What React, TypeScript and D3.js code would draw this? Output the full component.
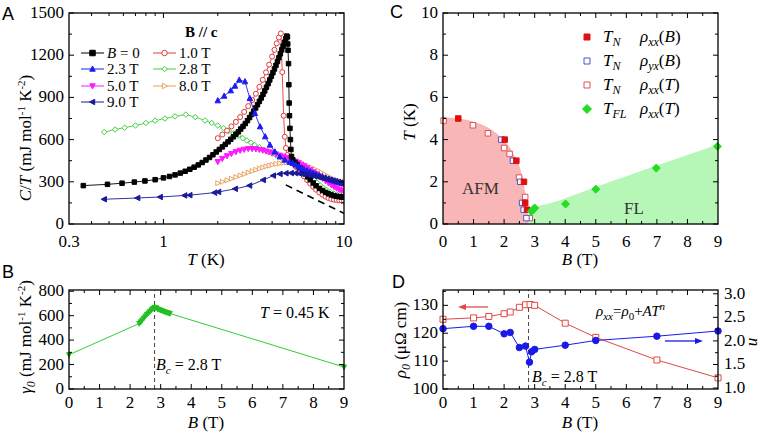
import React from 'react';
import * as d3 from 'd3';

type Pt = [number, number];

// ---------- Panel A : C/T vs T ----------
const A_B0: Pt[] = [[0.36,273],[0.49,282],[0.59,290],[0.69,298],[0.79,306],[0.9,315],[1.0,328],[1.08,338],[1.16,349],[1.24,362],[1.32,375],[1.4,389],[1.48,404],[1.56,420],[1.64,437],[1.72,455],[1.8,473],[1.88,492],[1.96,512],[2.04,530],[2.12,548],[2.2,566],[2.28,584],[2.36,602],[2.44,620],[2.52,638],[2.6,656],[2.68,675],[2.76,694],[2.84,714],[2.92,735],[3.0,757],[3.08,779],[3.16,802],[3.24,825],[3.32,848],[3.4,872],[3.48,896],[3.56,921],[3.64,946],[3.72,972],[3.8,998],[3.88,1024],[3.96,1050],[4.04,1076],[4.12,1102],[4.2,1128],[4.28,1155],[4.36,1182],[4.44,1210],[4.52,1238],[4.6,1265],[4.68,1292],[4.76,1318],[4.82,1336],[4.86,1330],[4.88,1280],[4.9,1235],[4.93,1140],[4.95,990],[4.97,860],[4.99,770],[5.02,680],[5.05,600],[5.08,530],[5.12,480],[5.2,455],[5.35,438],[5.5,422],[5.7,400],[5.9,378],[6.1,356],[6.3,335],[6.5,315],[6.75,292],[7.0,272],[7.3,253],[7.6,238],[7.9,225],[8.2,215],[8.5,207],[8.8,201],[9.1,197],[9.4,194],[9.7,192],[10.0,191]];
const A_1T: Pt[] = [[2.0,610],[2.12,636],[2.25,664],[2.38,694],[2.52,726],[2.66,760],[2.8,797],[2.95,838],[3.1,881],[3.25,926],[3.4,975],[3.55,1025],[3.7,1078],[3.85,1133],[4.0,1190],[4.12,1238],[4.24,1284],[4.36,1326],[4.47,1355],[4.55,1080],[4.63,770],[4.7,620],[4.77,540],[4.85,490],[5.0,455],[5.2,430],[5.4,408],[5.6,385],[5.8,362],[6.0,340],[6.25,312],[6.5,287],[6.75,264],[7.0,244],[7.3,224],[7.6,208],[7.9,195],[8.2,185],[8.5,178],[8.8,173],[9.1,170],[9.4,168],[9.7,167],[10,166]];
const A_23T: Pt[] = [[2.0,877],[2.17,910],[2.36,948],[2.49,981],[2.63,1024],[2.83,1012],[3.01,893],[3.21,787],[3.43,692],[3.66,621],[3.89,562],[4.14,514],[4.41,478],[4.7,455],[5.0,440],[5.2,432],[5.4,420],[5.6,408],[5.8,398],[6.0,390],[6.25,380],[6.5,371],[6.75,362],[7.0,354],[7.3,345],[7.6,336],[7.9,328],[8.2,320],[8.5,313],[8.8,306],[9.1,300],[9.4,295],[9.7,290],[10,286]];
const A_28T: Pt[] = [[0.47,653],[0.54,672],[0.61,685],[0.7,700],[0.8,718],[0.9,735],[1.02,750],[1.16,765],[1.33,778],[1.5,760],[1.7,736],[1.85,718],[2.0,700],[2.15,682],[2.3,662],[2.45,645],[2.6,628],[2.75,610],[2.9,594],[3.05,578],[3.2,562],[3.4,545],[3.6,528],[3.8,512],[4.0,500],[4.2,490],[4.45,476],[4.7,462],[5.0,448],[5.3,430],[5.6,410],[5.9,388],[6.2,365],[6.5,340],[6.8,316],[7.1,294],[7.4,274],[7.7,257],[8.0,243],[8.4,228],[8.8,216],[9.2,207],[9.6,200],[10,196]];
const A_5T: Pt[] = [[2.0,443],[2.12,465],[2.25,484],[2.38,500],[2.52,513],[2.66,523],[2.8,530],[2.95,535],[3.1,535],[3.25,533],[3.4,529],[3.55,524],[3.7,518],[3.85,512],[4.0,506],[4.2,497],[4.4,488],[4.6,480],[4.8,472],[5.0,464],[5.2,455],[5.4,445],[5.6,435],[5.8,424],[6.0,413],[6.25,399],[6.5,385],[6.75,370],[7.0,356],[7.3,340],[7.6,323],[7.9,307],[8.2,292],[8.5,278],[8.8,265],[9.1,254],[9.4,245],[9.7,237],[10,230]];
const A_8T: Pt[] = [[2.0,290],[2.12,300],[2.25,311],[2.38,322],[2.52,334],[2.66,345],[2.8,355],[2.95,366],[3.1,376],[3.25,385],[3.4,394],[3.55,402],[3.7,409],[3.85,415],[4.0,421],[4.2,427],[4.4,432],[4.6,435],[4.8,437],[5.0,437],[5.25,435],[5.5,431],[5.75,426],[6.0,420],[6.3,411],[6.6,401],[6.9,390],[7.2,378],[7.5,366],[7.8,354],[8.1,342],[8.4,330],[8.7,318],[9.0,307],[9.3,297],[9.6,287],[10,276]];
const A_9T: Pt[] = [[0.47,176],[0.72,185],[0.96,192],[1.31,203],[1.4,205],[1.92,223],[2.02,228],[2.5,250],[3.0,273],[3.57,313],[4.06,344],[4.42,356],[4.77,361],[5.1,362],[5.4,361],[5.7,358],[6.0,354],[6.3,349],[6.6,344],[6.9,339],[7.2,334],[7.5,329],[7.8,324],[8.1,319],[8.4,314],[8.7,309],[9.0,304],[9.3,299],[9.6,295],[10,290]];
const A_phonon: Pt[] = [[4.76,278],[10,76]];
const A_yTicks = [0,300,600,900,1200,1500];
const A_xLabels = [0.3,1,10];

// ---------- Panel B : gamma0 vs B ----------
const B_gamma: Pt[] = [[0,280],[2.3,536],[2.35,550],[2.4,565],[2.45,580],[2.5,595],[2.55,610],[2.6,622],[2.65,635],[2.7,648],[2.75,658],[2.8,668],[2.85,664],[2.9,655],[2.95,650],[3.0,644],[3.05,640],[3.1,634],[3.15,630],[3.2,626],[3.25,622],[3.3,618],[9,180]];
const B_yTicks = [0,200,400,600,800];
const B_xTicks = [0,1,2,3,4,5,6,7,8,9];

// ---------- Panel C : phase diagram ----------
const C_TN_rhoxxB: Pt[] = [[0.5,5.0],[2.02,4.0],[2.4,3.0],[2.65,2.0],[2.69,1.0],[2.75,0.68]];
const C_TN_rhoyxB: Pt[] = [[1.91,4.0],[2.29,3.0],[2.53,2.0],[2.59,1.0],[2.64,0.68],[2.73,0.28]];
const C_TN_rhoxxT: Pt[] = [[0.02,4.9],[0.98,4.68],[1.47,4.3],[2.0,3.6],[2.18,3.32],[2.49,2.2],[2.69,1.28],[2.84,0.28]];
const C_TFL: Pt[] = [[2.89,0.6],[2.95,0.68],[3.0,0.76],[4.01,0.95],[5.0,1.65],[6.98,2.65],[8.98,3.68]];
const C_AFMedge: Pt[] = [[0,5.05],[0.5,5.0],[1.0,4.85],[1.5,4.55],[1.75,4.3],[2.0,3.95],[2.2,3.6],[2.35,3.2],[2.5,2.75],[2.6,2.2],[2.68,1.6],[2.74,1.0],[2.78,0.4],[2.8,0]];
const C_FLedge: Pt[] = [[2.82,0],[2.84,0.3],[2.9,0.55],[3.0,0.72],[3.15,0.85],[3.4,0.95],[3.7,1.07],[4,1.22],[5,1.75],[6,2.26],[7,2.77],[8,3.27],[9,3.78]];
const C_xTicks = [0,1,2,3,4,5,6,7,8,9];
const C_yTicks = [0,2,4,6,8,10];

// ---------- Panel D : rho0 and n vs B ----------
const D_rho0: Pt[] = [[0,125.0],[1,125.5],[1.5,126.0],[2,127.0],[2.2,127.6],[2.5,129.3],[2.7,130.2],[2.85,130.3],[3.0,130.0],[4,123.6],[5,118.5],[7,110.4],[9,104.0]];
const D_n: Pt[] = [[0,2.26],[1,2.31],[1.5,2.31],[2,2.15],[2.2,2.18],[2.5,1.86],[2.7,1.89],[2.83,1.55],[2.9,1.77],[3.0,1.82],[4,1.91],[5,2.01],[7,2.1],[9,2.21]];
const D_leftTicks = [100,110,120,130];
const D_rightTicks = [1.0,1.5,2.0,2.5,3.0];

const SERIF = 'Liberation Serif';
const SANS = 'Liberation Sans';

type MType = 'sq' | 'circle' | 'triUp' | 'triDown' | 'triLeft' | 'triRight' | 'diamond';

function Marker({ t, x, y, s, color, filled, sw = 1 }: { t: MType; x: number; y: number; s: number; color: string; filled: boolean; sw?: number }) {
  const h = s / 2;
  const fill = filled ? color : 'white';
  if (t === 'circle') return <circle cx={x} cy={y} r={h} fill={fill} stroke={color} strokeWidth={sw} />;
  let d = '';
  if (t === 'sq') d = `M${-h},${-h}H${h}V${h}H${-h}Z`;
  if (t === 'triUp') d = `M0,${-h * 1.1}L${h},${h * 0.8}L${-h},${h * 0.8}Z`;
  if (t === 'triDown') d = `M0,${h * 1.1}L${h},${-h * 0.8}L${-h},${-h * 0.8}Z`;
  if (t === 'triLeft') d = `M${-h * 1.1},0L${h * 0.8},${-h}L${h * 0.8},${h}Z`;
  if (t === 'triRight') d = `M${h * 1.1},0L${-h * 0.8},${-h}L${-h * 0.8},${h}Z`;
  if (t === 'diamond') d = `M0,${-h}L${h},0L0,${h}L${-h},0Z`;
  return <path d={d} transform={`translate(${x},${y})`} fill={fill} stroke={color} strokeWidth={sw} />;
}

function Ticks({ x0, x1, y0, y1, bottom, top, left, right }: {
  x0: number; x1: number; y0: number; y1: number;
  bottom?: { pos: number[]; minor: number[] }; top?: { pos: number[]; minor: number[] };
  left?: { pos: number[]; minor: number[] }; right?: { pos: number[]; minor: number[] };
}) {
  const M = 5, m = 3;
  const els: React.ReactNode[] = [];
  let k = 0;
  if (bottom) {
    bottom.pos.forEach(p => els.push(<line key={k++} x1={p} x2={p} y1={y1} y2={y1 - M} />));
    bottom.minor.forEach(p => els.push(<line key={k++} x1={p} x2={p} y1={y1} y2={y1 - m} />));
  }
  if (top) {
    top.pos.forEach(p => els.push(<line key={k++} x1={p} x2={p} y1={y0} y2={y0 + M} />));
    top.minor.forEach(p => els.push(<line key={k++} x1={p} x2={p} y1={y0} y2={y0 + m} />));
  }
  if (left) {
    left.pos.forEach(p => els.push(<line key={k++} x1={x0} x2={x0 + M} y1={p} y2={p} />));
    left.minor.forEach(p => els.push(<line key={k++} x1={x0} x2={x0 + m} y1={p} y2={p} />));
  }
  if (right) {
    right.pos.forEach(p => els.push(<line key={k++} x1={x1} x2={x1 - M} y1={p} y2={p} />));
    right.minor.forEach(p => els.push(<line key={k++} x1={x1} x2={x1 - m} y1={p} y2={p} />));
  }
  return (
    <g stroke="black" strokeWidth={1}>
      {els}
      <rect x={x0} y={y0} width={x1 - x0} height={y1 - y0} fill="none" strokeWidth={1.3} />
    </g>
  );
}

function Series({ data, x, y, color, t, s, filled, lw = 1, dash }: {
  data: Pt[]; x: (v: number) => number; y: (v: number) => number; color: string; t?: MType; s?: number; filled?: boolean; lw?: number; dash?: string;
}) {
  const line = d3.line<Pt>().x(d => x(d[0])).y(d => y(d[1]));
  return (
    <g>
      <path d={line(data) || ''} fill="none" stroke={color} strokeWidth={lw} strokeDasharray={dash} />
      {t && data.map((d, i) => <Marker key={i} t={t} x={x(d[0])} y={y(d[1])} s={s || 5} color={color} filled={!!filled} />)}
    </g>
  );
}

const range = (a: number, b: number, st: number) => d3.range(a, b + st / 2, st);

function T(props: any) {
  return <text fontFamily={SERIF} {...props} />;
}

export default function App() {
  const xA = d3.scaleLog().domain([0.3, 10]).range([69, 344]);
  const yA = d3.scaleLinear().domain([0, 1500]).range([224, 13]);
  const xB = d3.scaleLinear().domain([0, 9]).range([69, 344]);
  const yB = d3.scaleLinear().domain([0, 810]).range([389, 290]);
  const xC = d3.scaleLinear().domain([0, 9]).range([443, 718]);
  const yC = d3.scaleLinear().domain([0, 10]).range([224, 13]);
  const xD = d3.scaleLinear().domain([0, 9]).range([443, 718]);
  const yDL = d3.scaleLinear().domain([100, 135.5]).range([389, 290]);
  const yDR = d3.scaleLinear().domain([0.98, 3.08]).range([389, 290]);

  const aMinorX = [0.4,0.5,0.6,0.7,0.8,0.9,2,3,4,5,6,7,8,9].map(v => xA(v));
  const aMajorX = [1].map(v => xA(v));
  const aMajorY = A_yTicks.map(v => yA(v));
  const aMinorY = range(150, 1350, 300).map(v => yA(v));

  const linMinorX = (sc: (v: number) => number) => range(0.5, 8.5, 1).map(v => sc(v));
  const linMajorX = (sc: (v: number) => number) => range(1, 8, 1).map(v => sc(v));

  const cols = {
    b0: '#000000', t1: '#e03c3c', t23: '#1c1cf0', t28: '#3fd03f', t5: '#ff1aff', t8: '#e8a460', t9: '#1a1a9a',
  };

  const legendA: { label: React.ReactNode; color: string; t: MType; filled: boolean; x: number; y: number }[] = [
    { label: <><tspan fontStyle="italic">B</tspan> = 0</>, color: cols.b0, t: 'sq', filled: true, x: 81, y: 53 },
    { label: '1.0 T', color: cols.t1, t: 'circle', filled: false, x: 153, y: 53 },
    { label: '2.3 T', color: cols.t23, t: 'triUp', filled: true, x: 81, y: 69 },
    { label: '2.8 T', color: cols.t28, t: 'diamond', filled: false, x: 153, y: 69 },
    { label: '5.0 T', color: cols.t5, t: 'triDown', filled: true, x: 81, y: 86 },
    { label: '8.0 T', color: cols.t8, t: 'triRight', filled: false, x: 153, y: 86 },
    { label: '9.0 T', color: cols.t9, t: 'triLeft', filled: true, x: 81, y: 102 },
  ];

  const edge = d3.line<Pt>().x(d => xC(d[0])).y(d => yC(d[1])).curve(d3.curveMonotoneX);
  const afmPath = `M${xC(0)},${yC(0)}L` + (edge(C_AFMedge) || '').slice(1) + `Z`;
  const flPath = (edge(C_FLedge) || '') + `L${xC(9)},${yC(0)}Z`;

  const cRed = '#e01010', cBlue = '#5050d0', cRedOpen = '#e05050', cGreen = '#22dd22';

  const legendC = [
    { t: 'sq' as MType, color: cRed, filled: true, sub: 'N', rho: 'xx', arg: 'B', y: 37 },
    { t: 'sq' as MType, color: cBlue, filled: false, sub: 'N', rho: 'yx', arg: 'B', y: 61 },
    { t: 'sq' as MType, color: cRedOpen, filled: false, sub: 'N', rho: 'xx', arg: 'T', y: 85 },
    { t: 'diamond' as MType, color: cGreen, filled: true, sub: 'FL', rho: 'xx', arg: 'T', y: 109 },
  ];

  const dRed = '#e04848', dBlue = '#1a1ae8';

  return (
    <svg width={765} height={435} style={{ position: 'absolute', left: 0, top: 0, background: 'white' }} fontFamily={SERIF}>
      <rect x={0} y={0} width={765} height={435} fill="white" />

      {/* ================= Panel A ================= */}
      <text x={2} y={20} fontFamily={SANS} fontSize={18}>A</text>
      <defs>
        <clipPath id="clipA"><rect x={69} y={13} width={275} height={211} /></clipPath>
      </defs>
      <g clipPath="url(#clipA)">
        <Series data={A_phonon} x={xA} y={yA} color="black" lw={1.6} dash="7,5" />
        <Series data={A_8T} x={xA} y={yA} color={cols.t8} t="triRight" s={5} filled={false} lw={0.9} />
        <Series data={A_28T} x={xA} y={yA} color={cols.t28} t="diamond" s={5.5} filled={false} lw={0.9} />
        <Series data={A_1T} x={xA} y={yA} color={cols.t1} t="circle" s={5} filled={false} lw={0.9} />
        <Series data={A_5T} x={xA} y={yA} color={cols.t5} t="triDown" s={5.5} filled={true} lw={0.9} />
        <Series data={A_B0} x={xA} y={yA} color={cols.b0} t="sq" s={4.5} filled={true} lw={0.9} />
        <Series data={A_23T} x={xA} y={yA} color={cols.t23} t="triUp" s={5.5} filled={true} lw={0.9} />
        <Series data={A_9T} x={xA} y={yA} color={cols.t9} t="triLeft" s={5.5} filled={true} lw={0.9} />
      </g>
      <Ticks x0={69} x1={344} y0={13} y1={224}
        bottom={{ pos: aMajorX, minor: aMinorX }} top={{ pos: aMajorX, minor: aMinorX }}
        left={{ pos: aMajorY, minor: aMinorY }} right={{ pos: aMajorY, minor: aMinorY }} />
      {A_yTicks.map(v => <T key={v} x={64} y={yA(v) + 5} fontSize={17} textAnchor="end">{v}</T>)}
      {A_xLabels.map(v => <T key={v} x={xA(v)} y={247} fontSize={17} textAnchor="middle">{v}</T>)}
      <T x={206} y={265} fontSize={17} textAnchor="middle"><tspan fontStyle="italic">T</tspan> (K)</T>
      <T transform="translate(31,138) rotate(-90)" fontSize={17} textAnchor="middle">
        <tspan fontStyle="italic">C</tspan>/<tspan fontStyle="italic">T</tspan> (mJ mol<tspan dy={-6} fontSize={11}>-1</tspan><tspan dy={6}> K</tspan><tspan dy={-6} fontSize={11}>-2</tspan><tspan dy={6}>)</tspan>
      </T>
      <T x={185} y={37} fontSize={15} fontWeight="bold">B // c</T>
      {legendA.map((l, i) => (
        <g key={i}>
          <line x1={l.x} x2={l.x + 23} y1={l.y} y2={l.y} stroke={l.color} strokeWidth={1} />
          <Marker t={l.t} x={l.x + 11.5} y={l.y} s={5.5} color={l.color} filled={l.filled} />
          <T x={l.x + 26} y={l.y + 5} fontSize={15}>{l.label}</T>
        </g>
      ))}

      {/* ================= Panel B ================= */}
      <text x={2} y={278} fontFamily={SANS} fontSize={18}>B</text>
      <line x1={xB(2.8)} x2={xB(2.8)} y1={389} y2={290} stroke="#444" strokeWidth={1} strokeDasharray="4,3" />
      <Series data={B_gamma} x={xB} y={yB} color="#33cc33" lw={1} />
      {B_gamma.map((d, i) => <Marker key={i} t="triDown" x={xB(d[0])} y={yB(d[1])} s={5} color="#22c022" filled={true} />)}
      <Ticks x0={69} x1={344} y0={290} y1={389}
        bottom={{ pos: linMajorX(xB), minor: linMinorX(xB) }} top={{ pos: linMajorX(xB), minor: linMinorX(xB) }}
        left={{ pos: B_yTicks.map(v => yB(v)), minor: [100,300,500,700].map(v => yB(v)) }}
        right={{ pos: B_yTicks.map(v => yB(v)), minor: [100,300,500,700].map(v => yB(v)) }} />
      {B_yTicks.map(v => <T key={v} x={64} y={yB(v) + 5} fontSize={17} textAnchor="end">{v}</T>)}
      {B_xTicks.map(v => <T key={v} x={xB(v)} y={408} fontSize={17} textAnchor="middle">{v}</T>)}
      <T x={206} y={428} fontSize={17} textAnchor="middle"><tspan fontStyle="italic">B</tspan> (T)</T>
      <T transform="translate(31,337) rotate(-90)" fontSize={17} textAnchor="middle">
        <tspan fontStyle="italic">γ</tspan><tspan fontStyle="italic" fontSize={12} dy={4}>0</tspan><tspan dy={-4}> (mJ mol</tspan><tspan dy={-6} fontSize={11}>-1</tspan><tspan dy={6}> K</tspan><tspan dy={-6} fontSize={11}>-2</tspan><tspan dy={6}>)</tspan>
      </T>
      <T x={260} y={318} fontSize={16}><tspan fontStyle="italic">T</tspan> = 0.45 K</T>
      <T x={156} y={370} fontSize={16}><tspan fontStyle="italic">B</tspan><tspan fontStyle="italic" fontSize={11} dy={4}>c</tspan><tspan dy={-4}> = 2.8 T</tspan></T>

      {/* ================= Panel C ================= */}
      <text x={390} y={18} fontFamily={SANS} fontSize={18}>C</text>
      <path d={afmPath} fill="#f9b6b6" stroke="none" />
      <path d={flPath} fill="#b6f6b6" stroke="none" />
      <T x={462} y={194} fontSize={17} fill="#333">AFM</T>
      <T x={624} y={214} fontSize={17} fill="#333">FL</T>
      {C_TN_rhoxxT.map((d, i) => <Marker key={'a' + i} t="sq" x={xC(d[0])} y={yC(d[1])} s={5.5} color={cRedOpen} filled={false} />)}
      {C_TN_rhoyxB.map((d, i) => <Marker key={'b' + i} t="sq" x={xC(d[0])} y={yC(d[1])} s={5.5} color={cBlue} filled={false} />)}
      {C_TN_rhoxxB.map((d, i) => <Marker key={'c' + i} t="sq" x={xC(d[0])} y={yC(d[1])} s={5.5} color={cRed} filled={true} />)}
      {C_TFL.map((d, i) => <Marker key={'d' + i} t="diamond" x={xC(d[0])} y={yC(d[1])} s={8} color={cGreen} filled={true} />)}
      <Ticks x0={443} x1={718} y0={13} y1={224}
        bottom={{ pos: linMajorX(xC), minor: linMinorX(xC) }} top={{ pos: linMajorX(xC), minor: linMinorX(xC) }}
        left={{ pos: C_yTicks.map(v => yC(v)), minor: [1,3,5,7,9].map(v => yC(v)) }}
        right={{ pos: C_yTicks.map(v => yC(v)), minor: [1,3,5,7,9].map(v => yC(v)) }} />
      {C_yTicks.map(v => <T key={v} x={438} y={yC(v) + 5} fontSize={17} textAnchor="end">{v}</T>)}
      {C_xTicks.map(v => <T key={v} x={xC(v)} y={247} fontSize={17} textAnchor="middle">{v}</T>)}
      <T x={580} y={265} fontSize={17} textAnchor="middle"><tspan fontStyle="italic">B</tspan> (T)</T>
      <T transform="translate(415,122) rotate(-90)" fontSize={17} textAnchor="middle"><tspan fontStyle="italic">T</tspan> (K)</T>
      {legendC.map((l, i) => (
        <g key={i}>
          <Marker t={l.t} x={587} y={l.y} s={l.t === 'diamond' ? 9 : 6} color={l.color} filled={l.filled} />
          <T x={603} y={l.y + 5} fontSize={17} fontStyle="italic">T<tspan fontSize={12} dy={4}>{l.sub}</tspan></T>
          <T x={640} y={l.y + 5} fontSize={17} fontStyle="italic">ρ<tspan fontSize={12} dy={4}>{l.rho}</tspan><tspan dy={-4} fontStyle="normal">(</tspan>{l.arg}<tspan fontStyle="normal">)</tspan></T>
        </g>
      ))}

      {/* ================= Panel D ================= */}
      <text x={392} y={288} fontFamily={SANS} fontSize={18}>D</text>
      <line x1={xD(2.8)} x2={xD(2.8)} y1={389} y2={290} stroke="#444" strokeWidth={1} strokeDasharray="4,3" />
      <Series data={D_rho0} x={xD} y={yDL} color={dRed} t="sq" s={6} filled={false} lw={1} />
      <Series data={D_n} x={xD} y={yDR} color={dBlue} t="circle" s={6.5} filled={true} lw={1} />
      <Ticks x0={443} x1={718} y0={290} y1={389}
        bottom={{ pos: linMajorX(xD), minor: linMinorX(xD) }} top={{ pos: linMajorX(xD), minor: linMinorX(xD) }}
        left={{ pos: D_leftTicks.map(v => yDL(v)), minor: [105,115,125,135].map(v => yDL(v)) }}
        right={{ pos: D_rightTicks.map(v => yDR(v)), minor: [1.25,1.75,2.25,2.75].map(v => yDR(v)) }} />
      {D_leftTicks.map(v => <T key={v} x={438} y={yDL(v) + 5} fontSize={17} textAnchor="end">{v}</T>)}
      {D_rightTicks.map(v => <T key={v} x={724} y={yDR(v) + 5} fontSize={17}>{v.toFixed(1)}</T>)}
      {C_xTicks.map(v => <T key={v} x={xD(v)} y={408} fontSize={17} textAnchor="middle">{v}</T>)}
      <T x={580} y={428} fontSize={17} textAnchor="middle"><tspan fontStyle="italic">B</tspan> (T)</T>
      <T transform="translate(406,340) rotate(-90)" fontSize={17} textAnchor="middle">
        <tspan fontStyle="italic">ρ</tspan><tspan fontStyle="italic" fontSize={12} dy={4}>0</tspan><tspan dy={-4}> (μΩ cm)</tspan>
      </T>
      <T transform="translate(749,342) rotate(90)" fontSize={17} textAnchor="middle" fontStyle="italic">n</T>
      <T x={596} y={316} fontSize={15} fontStyle="italic">ρ<tspan fontSize={11} dy={4}>xx</tspan><tspan dy={-4} fontStyle="normal">=</tspan>ρ<tspan fontSize={11} dy={4} fontStyle="normal">0</tspan><tspan dy={-4} fontStyle="normal">+</tspan>AT<tspan fontSize={11} dy={-6}>n</tspan></T>
      <T x={532} y={382} fontSize={16}><tspan fontStyle="italic">B</tspan><tspan fontStyle="italic" fontSize={11} dy={4}>c</tspan><tspan dy={-4}> = 2.8 T</tspan></T>
      <line x1={488} x2={464} y1={307} y2={307} stroke={dRed} strokeWidth={1.3} />
      <path d="M458,307L466,304L466,310Z" fill={dRed} />
      <line x1={665} x2={697} y1={341} y2={341} stroke={dBlue} strokeWidth={1.3} />
      <path d="M703,341L695,338L695,344Z" fill={dBlue} />
    </svg>
  );
}
